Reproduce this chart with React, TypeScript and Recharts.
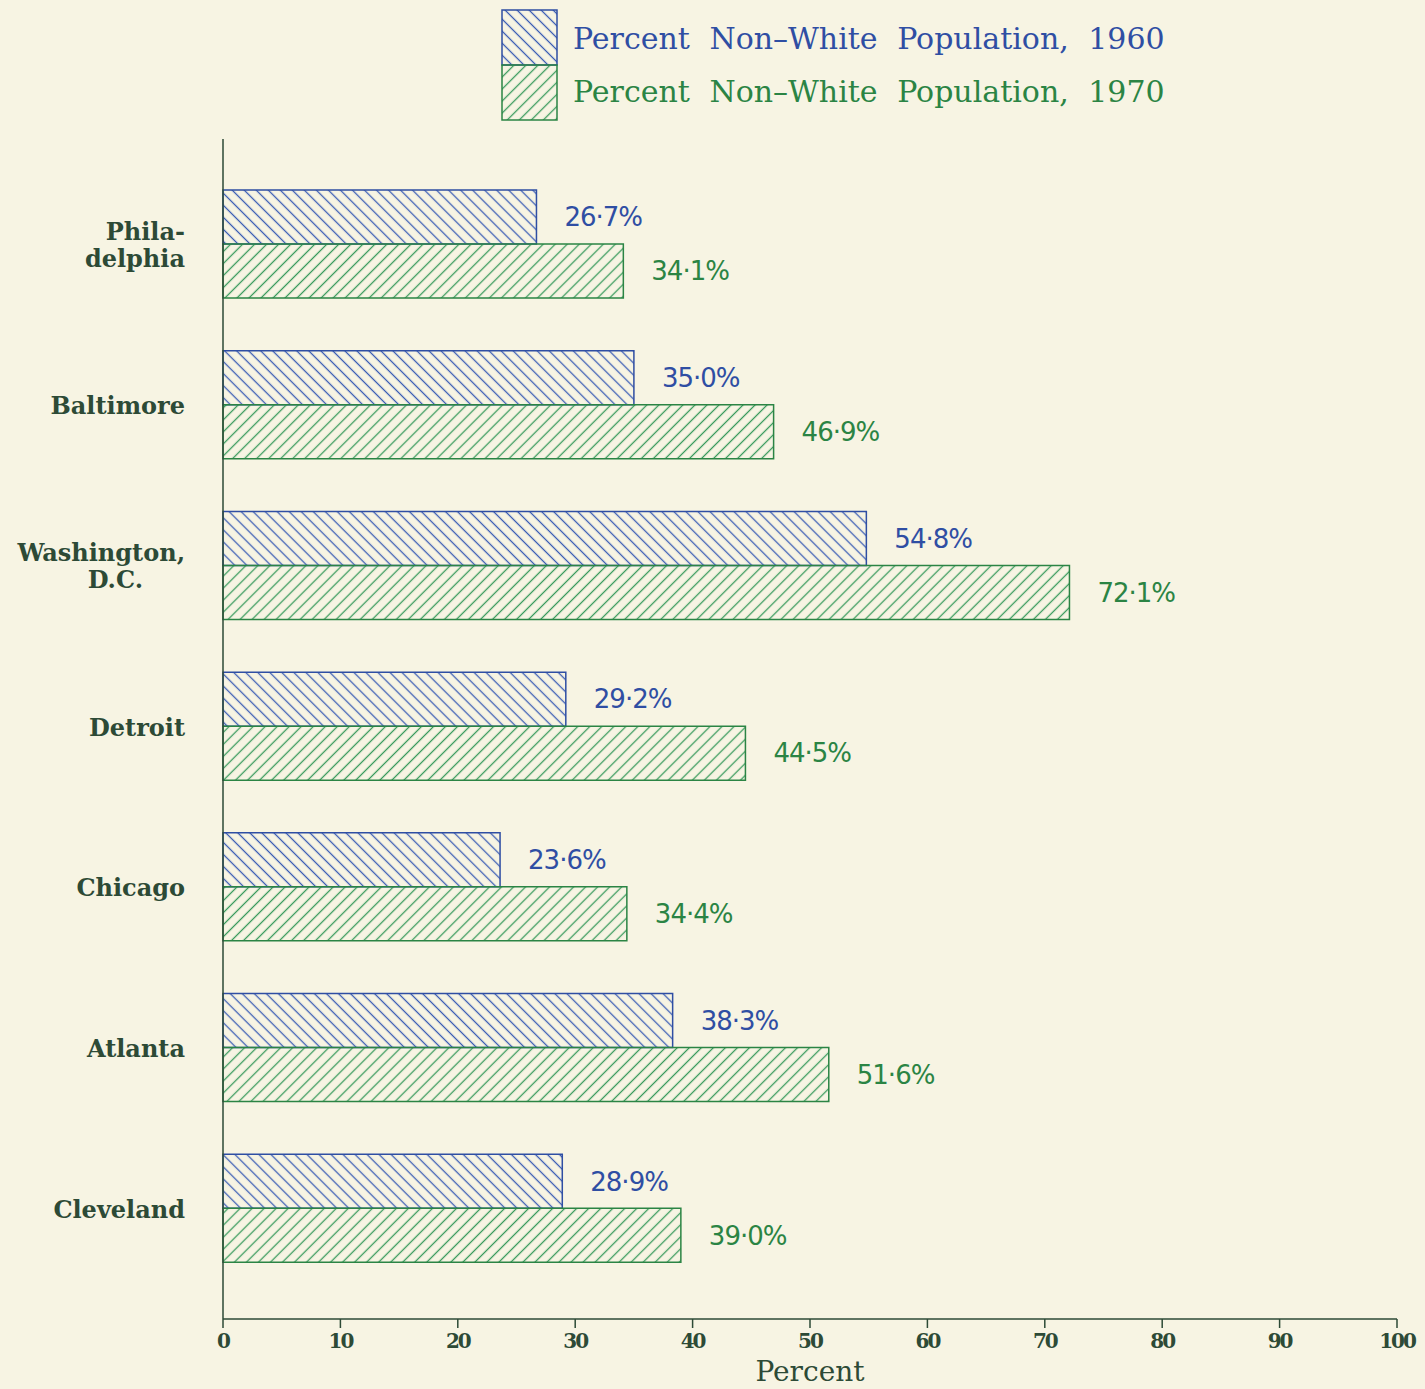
import { BarChart, Bar, XAxis, YAxis, LabelList } from 'recharts';

const cities = ['Phila-\ndelphia', 'Baltimore', 'Washington,\nD.C.', 'Detroit', 'Chicago', 'Atlanta', 'Cleveland'];
const pct1960 = [26.7, 35.0, 54.8, 29.2, 23.6, 38.3, 28.9];
const pct1970 = [34.1, 46.9, 72.1, 44.5, 34.4, 51.6, 39.0];
const xTicks = [0, 10, 20, 30, 40, 50, 60, 70, 80, 90, 100];
const seriesNames = ['Percent Non\u2013White Population, 1960', 'Percent Non\u2013White Population, 1970'];

const data = cities.map((c, i) => ({ city: c, y1960: pct1960[i], y1970: pct1970[i] }));

const BG = '#f7f4e3';
const BLUE = '#2f4ea3';
const GREEN = '#2b8444';
const HATCH_BLUE = '#3a5cb4';
const HATCH_GREEN = '#389a5c';
const AXIS = '#2d4a36';

const fmt = (v: number) => v.toFixed(1).replace('.', '\u00b7') + '%';

function CityTick({ x, y, payload }: any) {
  const lines = String(payload.value).split('\n');
  const lh = 27;
  const start = y - ((lines.length - 1) * lh) / 2;
  return (
    <text
      x={x}
      y={start}
      textAnchor="end"
      dominantBaseline="central"
      fill={AXIS}
      style={{ fontFamily: '"DejaVu Serif", serif', fontSize: 24, fontWeight: 'bold' }}
    >
      {lines.map((l, i) => (
        <tspan key={i} x={i === 1 && lines[0].startsWith('Wash') ? x - 42 : x} dy={i === 0 ? 0 : lh}>
          {l}
        </tspan>
      ))}
    </text>
  );
}

function Hatches({ suffix }: { suffix: string }) {
  return (
    <defs>
      <pattern id={'hatch60' + suffix} patternUnits="userSpaceOnUse" width={8.5} height={8.5} patternTransform="rotate(-45)">
        <line x1={4.25} y1={-1} x2={4.25} y2={9.5} stroke={HATCH_BLUE} strokeWidth={1.3} />
      </pattern>
      <pattern id={'hatch70' + suffix} patternUnits="userSpaceOnUse" width={8.5} height={8.5} patternTransform="rotate(45)">
        <line x1={4.25} y1={-1} x2={4.25} y2={9.5} stroke={HATCH_GREEN} strokeWidth={1.3} />
      </pattern>
    </defs>
  );
}

function LegendBox() {
  const items = [
    { name: seriesNames[0], fill: 'url(#hatch60L)', stroke: BLUE, color: BLUE },
    { name: seriesNames[1], fill: 'url(#hatch70L)', stroke: GREEN, color: GREEN },
  ];
  return (
    <svg width={720} height={124} style={{ position: 'absolute', left: 501, top: 0, overflow: 'visible' }}>
      <Hatches suffix="L" />
      {items.map((it, i) => (
        <g key={i}>
          <rect x={1} y={10 + i * 55} width={55} height={55} fill={it.fill} stroke={it.stroke} strokeWidth={1.5} />
          <text
            x={72}
            y={38 + i * 53}
            dominantBaseline="central"
            fill={it.color}
            style={{ fontFamily: '"DejaVu Serif", serif', fontSize: 30, wordSpacing: 10 }}
          >
            {it.name}
          </text>
        </g>
      ))}
    </svg>
  );
}

export default function App() {
  return (
    <div style={{ position: 'absolute', left: 0, top: 0, width: 1425, height: 1389, background: BG }}>
      <BarChart
        width={1425}
        height={1389}
        data={data}
        layout="vertical"
        margin={{ top: 139, right: 28, bottom: 6, left: 0 }}
        barGap={0}
        barSize={54}
      >
        <Hatches suffix="" />
        <XAxis
          type="number"
          domain={[0, 100]}
          ticks={xTicks}
          height={64}
          stroke={AXIS}
          strokeWidth={1.5}
          tickSize={9}
          tickMargin={6}
          tick={{ fill: AXIS, fontFamily: '"DejaVu Serif", serif', fontSize: 20, fontWeight: 'bold', letterSpacing: -2 }}
          label={{ value: 'Percent', position: 'insideBottom', offset: 2, fill: AXIS, fontFamily: '"DejaVu Serif", serif', fontSize: 28 }}
        />
        <YAxis
          type="category"
          dataKey="city"
          width={223}
          stroke={AXIS}
          strokeWidth={1.5}
          tickLine={false}
          tickSize={0}
          tickMargin={38}
          padding={{ top: 25, bottom: 30 }}
          tick={<CityTick />}
          interval={0}
        />
        <Bar dataKey="y1960" name={seriesNames[0]} fill="url(#hatch60)" stroke={BLUE} strokeWidth={1.5} isAnimationActive={false}>
          <LabelList
            dataKey="y1960"
            position="right"
            offset={28}
            formatter={(v: any) => fmt(Number(v))}
            fill={BLUE}
            style={{ fontFamily: '"DejaVu Sans", sans-serif', fontSize: 26, letterSpacing: -1 }}
          />
        </Bar>
        <Bar dataKey="y1970" name={seriesNames[1]} fill="url(#hatch70)" stroke={GREEN} strokeWidth={1.5} isAnimationActive={false}>
          <LabelList
            dataKey="y1970"
            position="right"
            offset={28}
            formatter={(v: any) => fmt(Number(v))}
            fill={GREEN}
            style={{ fontFamily: '"DejaVu Sans", sans-serif', fontSize: 26, letterSpacing: -1 }}
          />
        </Bar>
      </BarChart>
      <LegendBox />
    </div>
  );
}
